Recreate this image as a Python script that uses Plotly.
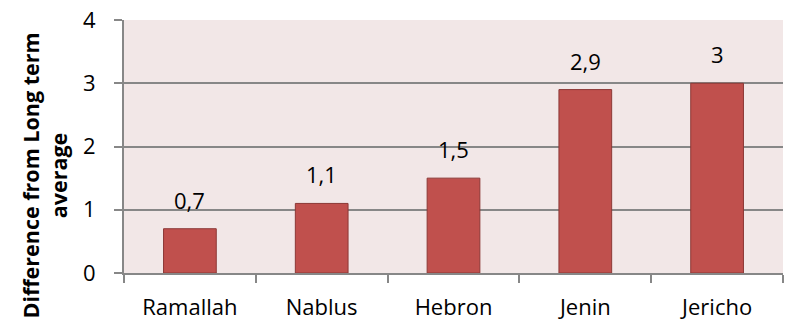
import plotly.graph_objects as go

# Regional difference from the long-term average
cities = ["Ramallah", "Nablus", "Hebron", "Jenin", "Jericho"]
differences = [0.7, 1.1, 1.5, 2.9, 3.0]
y_ticks = [0, 1, 2, 3, 4]

FONT = "Open Sans"
GRID = "#878787"

fig = go.Figure()
fig.add_trace(go.Bar(
    x=cities,
    y=differences,
    marker=dict(color="#C0504D", line=dict(color="#8C3836", width=1)),
    hoverinfo="skip",
))

# value labels above each bar, comma as decimal mark
for city, val in zip(cities, differences):
    txt = f"{val:g}".replace(".", ",")
    fig.add_annotation(
        x=city, y=val, text=txt, showarrow=False,
        yanchor="bottom", yshift=12,
        font=dict(family=FONT, size=22, color="#000000"),
    )

# rotated y-axis title
fig.add_annotation(
    text="<b>Difference from Long term<br>average</b>",
    xref="paper", yref="paper",
    x=-0.12, y=0.385,
    xanchor="center", yanchor="middle",
    textangle=-90, showarrow=False,
    font=dict(family=FONT, size=21.5, color="#000000"),
)

fig.update_layout(
    width=785, height=323,
    margin=dict(l=124, r=2, t=20, b=50),
    paper_bgcolor="white",
    plot_bgcolor="#F2E7E7",
    bargap=0.6,
    showlegend=False,
    font=dict(family=FONT, size=22, color="#000000"),
    separators=", ",
)

fig.update_xaxes(
    type="category",
    showline=True, linecolor=GRID, linewidth=2,
    ticks="outside", tickson="boundaries", ticklen=8, tickwidth=2, tickcolor=GRID,
    tickfont=dict(family=FONT, size=22),
    showgrid=False,
    ticklabelstandoff=14,
)

fig.update_yaxes(
    range=[0, 4],
    tickvals=y_ticks,
    showline=True, linecolor=GRID, linewidth=2,
    ticks="outside", ticklen=8, tickwidth=2, tickcolor=GRID,
    showgrid=True, gridcolor=GRID, gridwidth=2,
    zeroline=False,
    tickfont=dict(family=FONT, size=22),
    ticklabelstandoff=14,
)

fig.write_html("out.html")
